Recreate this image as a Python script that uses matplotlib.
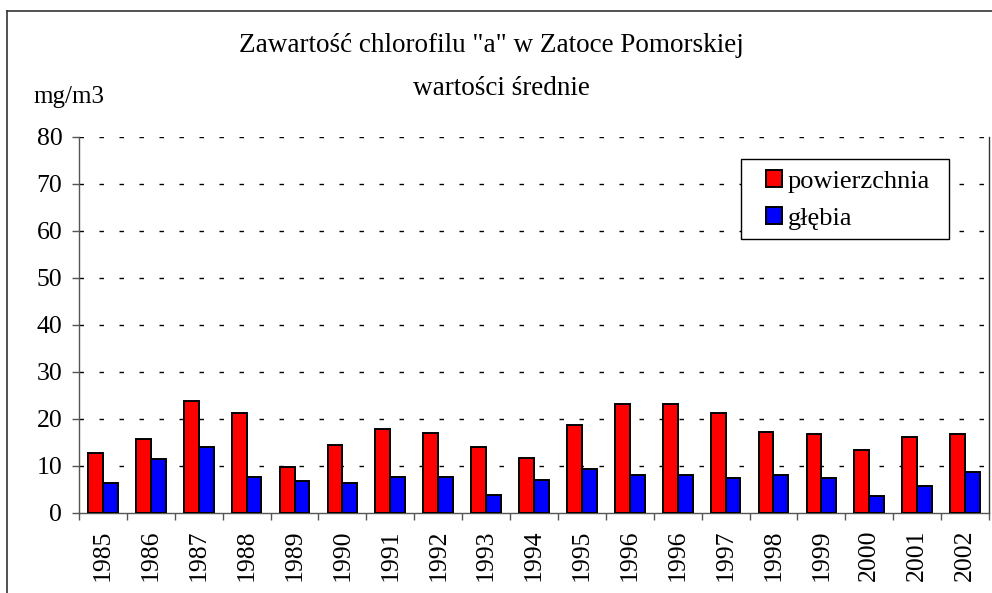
import matplotlib
matplotlib.use("Agg")
import matplotlib.pyplot as plt
from matplotlib.lines import Line2D
from matplotlib.patches import Rectangle
import numpy as np

years = ["1985", "1986", "1987", "1988", "1989", "1990", "1991", "1992", "1993",
         "1994", "1995", "1996", "1996", "1997", "1998", "1999", "2000", "2001", "2002"]
powierzchnia = [12.6, 15.6, 23.7, 21.1, 9.6, 14.3, 17.7, 16.9, 13.9,
                11.7, 18.6, 23.2, 23.2, 21.1, 17.2, 16.8, 13.4, 16.0, 16.8]
glebia = [6.2, 11.3, 13.9, 7.5, 6.7, 6.2, 7.5, 7.5, 3.7,
          7.0, 9.2, 7.9, 7.9, 7.4, 7.9, 7.4, 3.6, 5.7, 8.7]
yticks = [0, 10, 20, 30, 40, 50, 60, 70, 80]

plt.rcParams['font.family'] = ['Liberation Serif', 'DejaVu Serif']

W, H = 992, 593
fig = plt.figure(figsize=(W / 100, H / 100), dpi=100)
fig.patch.set_facecolor('white')

def fx(px):
    return px / W

def fy(py):
    return 1 - py / H

# axes placement (pixels)
ax_l, ax_r, ax_t, ax_b = 79, 989, 136.7, 512.5
ax = fig.add_axes([fx(ax_l), fy(ax_b), (ax_r - ax_l) / W, (ax_b - ax_t) / H])

x = np.arange(len(years))
bw = 0.31
ax.bar(x - bw / 2, powierzchnia, width=bw, color='#FF0000', edgecolor='black',
       linewidth=1.4, label='powierzchnia', zorder=3)
ax.bar(x + bw / 2, glebia, width=bw, color='#0000FF', edgecolor='black',
       linewidth=1.4, label='głębia', zorder=3)

ax.set_xlim(-0.5, len(years) - 0.5)
ax.set_ylim(0, 80)
ax.set_yticks(yticks)
ax.set_yticklabels([str(v) for v in yticks], fontsize=18.5)
ax.tick_params(axis='y', direction='out', length=5, width=1, color='#555555', pad=7)

ax.set_xticks(x)
ax.set_xticklabels(years, rotation=90, fontsize=18.5)
ax.tick_params(axis='x', which='major', length=0, pad=12)
ax.set_xticks(np.arange(len(years) + 1) - 0.5, minor=True)
ax.tick_params(axis='x', which='minor', direction='out', length=5, width=1, color='#555555')

for v in yticks[1:]:
    ax.axhline(v, color='black', linewidth=1.0, linestyle=(0, (3.2, 11.2)), zorder=1)

ax.spines['top'].set_visible(False)
ax.spines['left'].set_color('#555555')
ax.spines['bottom'].set_color('#555555')
ax.spines['right'].set_color('#333333')
for s in ['left', 'bottom', 'right']:
    ax.spines[s].set_linewidth(1.0)

# legend frame drawn at its place, legend entries inside it
lg_l, lg_r, lg_t, lg_b = 741, 949, 159, 239
fig.add_artist(Rectangle((fx(lg_l), fy(lg_b)), (lg_r - lg_l) / W, (lg_b - lg_t) / H,
                         transform=fig.transFigure, facecolor='white', edgecolor='black',
                         linewidth=1.0, zorder=4))
leg = fig.legend(*ax.get_legend_handles_labels(), loc='upper left',
                 bbox_to_anchor=(fx(766), fy(170)),
                 fontsize=19, frameon=False,
                 handlelength=0.62, handleheight=0.62, handletextpad=0.2,
                 borderpad=0.0, labelspacing=0.55, borderaxespad=0)
leg.set_zorder(5)

# titles
fig.text(fx(491), fy(46), 'Zawartość chlorofilu "a" w Zatoce Pomorskiej',
         ha='center', va='center', fontsize=19.5)
fig.text(fx(501), fy(88), 'wartości średnie', ha='center', va='center', fontsize=19.5)
fig.text(fx(33), fy(97), 'mg/m3', ha='left', va='center', fontsize=18)

# outer chart border (cropped on right/bottom)
fig.add_artist(Line2D([fx(7), fx(7)], [0, fy(11)], transform=fig.transFigure,
                      color='#333333', linewidth=1.2))
fig.add_artist(Line2D([fx(7), 1], [fy(11), fy(11)], transform=fig.transFigure,
                      color='#333333', linewidth=1.2))

fig.savefig('out.png', dpi=100)
